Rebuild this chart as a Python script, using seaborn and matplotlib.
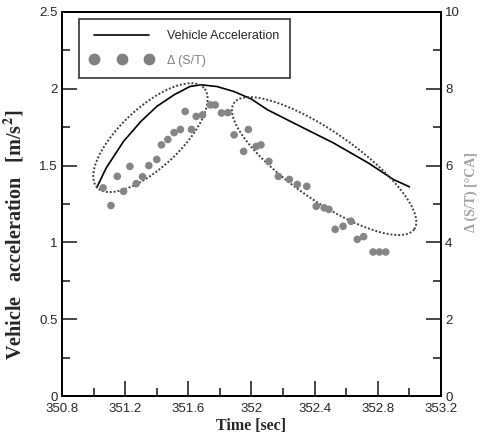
import numpy as np
import matplotlib
matplotlib.use("Agg")
import matplotlib.pyplot as plt
from matplotlib.lines import Line2D
from matplotlib.ticker import MultipleLocator
import seaborn as sns
import pandas as pd

sns.set_style("ticks")
plt.rcParams['font.family'] = ['Liberation Sans', 'DejaVu Sans']
plt.rcParams['mathtext.fontset'] = 'stix'

# vehicle acceleration curve (left axis)
line_time = [351.02, 351.08, 351.19, 351.30, 351.40, 351.51, 351.61, 351.68,
             351.78, 351.89, 352.00, 352.10, 352.31, 352.52, 352.74, 352.90,
             353.00]
line_accel = [1.357, 1.485, 1.658, 1.788, 1.885, 1.961, 2.015, 2.026,
              2.015, 1.982, 1.933, 1.864, 1.755, 1.647, 1.517, 1.409,
              1.362]

# delta (S/T) points (right axis)
pt_time = [351.06, 351.11, 351.15, 351.19, 351.23, 351.27, 351.31, 351.35,
           351.40, 351.43, 351.47, 351.51, 351.55, 351.58, 351.62, 351.65,
           351.69, 351.74, 351.77, 351.81, 351.85, 351.89, 351.95, 351.98,
           352.03, 352.06, 352.11, 352.17, 352.24, 352.29, 352.35, 352.41,
           352.46, 352.49, 352.53, 352.58, 352.63, 352.67, 352.71, 352.77,
           352.81, 352.85]
pt_delta = [5.42, 4.96, 5.72, 5.33, 5.98, 5.53, 5.71, 6.00,
            6.16, 6.54, 6.68, 6.86, 6.94, 7.41, 6.94, 7.28,
            7.32, 7.58, 7.58, 7.37, 7.38, 6.80, 6.37, 6.94,
            6.50, 6.54, 6.11, 5.72, 5.64, 5.51, 5.46, 4.94,
            4.90, 4.86, 4.34, 4.42, 4.55, 4.08, 4.15, 3.75,
            3.75, 3.75]

# highlight ellipses: centre (time, accel), semi-axes in px, angle in deg
ell_centre = [(351.36, 1.682), (352.46, 1.497)]
ell_axes = [(73, 30), (110, 34)]
ell_angle = [43, -35]

W, H = 481, 440
fig = plt.figure(figsize=(W / 100, H / 100), dpi=100)
ax = fig.add_axes([62 / W, 44 / H, 379 / W, 384 / H])
ax2 = ax.twinx()

df_line = pd.DataFrame({'time': line_time, 'accel': line_accel})
df_pts = pd.DataFrame({'time': pt_time, 'delta': pt_delta})

sns.lineplot(data=df_line, x='time', y='accel', ax=ax, color='black',
             lw=1.2, sort=False)
sns.scatterplot(data=df_pts, x='time', y='delta', ax=ax2, color='#858585',
                s=30, edgecolor='none', marker='o')

ax.set_xlim(350.8, 353.2)
ax.set_ylim(0, 2.5)
ax2.set_ylim(0, 10)

# ellipses drawn in pixel space then mapped back to data units
px_per_x = 379 / 2.4
px_per_y = 384 / 2.5
th = np.linspace(0, 2 * np.pi, 300)
for (cx, cy), (a, b), ang in zip(ell_centre, ell_axes, ell_angle):
    phi = np.deg2rad(ang)
    X = a * np.cos(th) * np.cos(phi) - b * np.sin(th) * np.sin(phi)
    Y = a * np.cos(th) * np.sin(phi) + b * np.sin(th) * np.cos(phi)
    ax.plot(cx + X / px_per_x, cy + Y / px_per_y, ls=(0, (1, 1)),
            color='#404040', lw=1.4)

ax.xaxis.set_minor_locator(MultipleLocator(0.2))
ax.yaxis.set_minor_locator(MultipleLocator(0.25))
ax2.yaxis.set_major_locator(MultipleLocator(2))
ax2.yaxis.set_minor_locator(MultipleLocator(1))
ax.set_xticks(np.arange(350.8, 353.21, 0.4))
ax.set_xticklabels(['350.8', '351.2', '351.6', '352', '352.4', '352.8', '353.2'])
ax.set_yticks([0, 0.5, 1, 1.5, 2, 2.5])
ax.set_yticklabels(['0', '0.5', '1', '1.5', '2', '2.5'])

for a_ in (ax, ax2):
    a_.tick_params(which='major', direction='in', length=11, width=1.2,
                   labelsize=9.5, pad=3)
    a_.tick_params(which='minor', direction='in', length=6, width=1.2)
    for sp in a_.spines.values():
        sp.set_linewidth(1.4)
        sp.set_color('black')
ax.tick_params(top=False, which='both')
ax.tick_params(axis='x', pad=5)
ax2.tick_params(top=False, which='both')

ax.set_xlabel('Time [sec]', family='Liberation Serif', fontweight='bold',
              fontsize=11.5, labelpad=2)
ax.set_ylabel(r'Vehicle   acceleration   [m/s$\mathbf{^2}$]',
              family='Liberation Serif', fontweight='bold', fontsize=14.5)
ax.yaxis.set_label_coords(-0.093, 0.42)
ax2.set_ylabel('Δ (S/T) [°CA]', family='Liberation Serif', fontweight='bold',
               fontsize=10, color='#a0a0a0', rotation=90)
ax2.yaxis.set_label_coords(1.063, 0.53)

handles = [Line2D([], [], color='black', lw=1.2),
           Line2D([], [], ls='none', marker='o', color='#808080',
                  markersize=8.5, markeredgecolor='none')]
leg = ax2.legend(handles, ['Vehicle Acceleration', 'Δ (S/T)'],
                 loc='upper left', bbox_to_anchor=(0.045, 0.982),
                 frameon=True, fancybox=False, edgecolor='black',
                 prop={'family': ['Liberation Sans Narrow', 'Liberation Sans'],
                       'size': 9},
                 handlelength=5, handletextpad=1.1,
                 numpoints=3, borderpad=0.9, labelspacing=1.0,
                 borderaxespad=0)
leg.get_frame().set_linewidth(1.2)
leg.get_texts()[1].set_color('#808080')

ax2.set_xlabel('')
fig.savefig('out.png', dpi=100)
